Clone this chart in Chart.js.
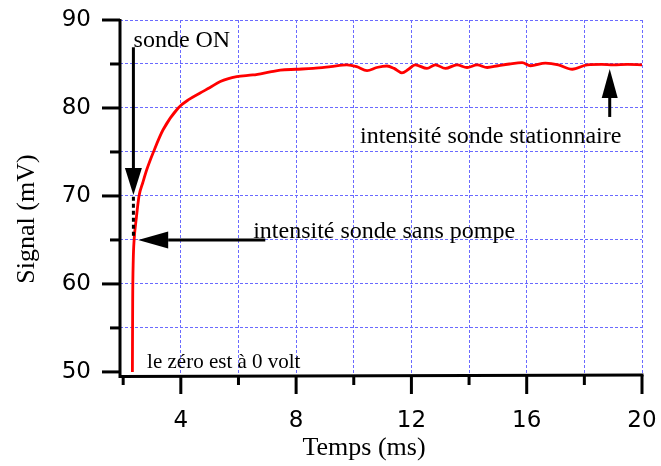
<!DOCTYPE html>
<html>
<head>
<meta charset="utf-8">
<script src="https://cdn.jsdelivr.net/npm/chart.js@4.4.1/dist/chart.umd.min.js"></script>
<style>
  html, body { margin: 0; padding: 0; background: #fff; }
  #wrap { width: 661px; height: 466px; }
</style>
</head>
<body>
<div id="wrap"><canvas id="chart" width="661" height="466"></canvas></div>
<script>
// signal
const timeMs = [2.32, 2.33, 2.35, 2.38, 2.45, 2.55, 2.68, 2.82, 3.05, 3.38, 3.91, 4.3, 4.67, 5.0, 5.37, 5.94, 6.5, 7.1, 7.45, 8.0, 8.59, 9.2, 9.76, 10.1, 10.46, 10.8, 11.15, 11.4, 11.67, 11.9, 12.13, 12.54, 12.83, 13.18, 13.58, 13.93, 14.28, 14.63, 15.0, 15.4, 15.84, 16.13, 16.65, 17.1, 17.58, 18.1, 18.6, 19.0, 19.5, 20.0];
const signalMv = [50, 58, 62.7, 65, 67.3, 70, 71.5, 73, 75, 77.5, 80, 81, 81.7, 82.3, 83, 83.55, 83.75, 84.1, 84.3, 84.4, 84.5, 84.7, 84.9, 84.7, 84.25, 84.6, 84.77, 84.5, 84.0, 84.4, 84.9, 84.5, 84.9, 84.5, 84.9, 84.6, 84.9, 84.6, 84.8, 85.0, 85.15, 84.8, 85.1, 84.9, 84.4, 84.9, 84.95, 84.9, 84.95, 84.9];

const xTickLabels = [4, 8, 12, 16, 20];
const yTickLabels = [50, 60, 70, 80, 90];

const serif = '"Liberation Serif", "Times New Roman", serif';
const sans = '"DejaVu Sans", Verdana, sans-serif';
const gridBlue = '#6a6aff';

function arrow(ctx, x1, y1, x2, y2, headLen, headW) {
    let a = Math.atan2(y2 - y1, x2 - x1);
    let bx = x2 - headLen * Math.cos(a), by = y2 - headLen * Math.sin(a);
    ctx.beginPath();
    ctx.moveTo(x1, y1);
    ctx.lineTo(bx, by);
    ctx.stroke();
    ctx.beginPath();
    ctx.moveTo(x2, y2);
    ctx.lineTo(bx + headW / 2 * Math.sin(a), by - headW / 2 * Math.cos(a));
    ctx.lineTo(bx - headW / 2 * Math.sin(a), by + headW / 2 * Math.cos(a));
    ctx.closePath();
    ctx.fill();
}

// axes, ticks, notes and arrows (Igor style)
const decorations = {
    id: 'decorations',
    afterDraw(chart) {
        let ctx = chart.ctx;
        let xs = chart.scales.x, ys = chart.scales.y;
        let area = chart.chartArea;
        let px = v => xs.getPixelForValue(v);
        let py = v => ys.getPixelForValue(v);
        ctx.save();
        ctx.strokeStyle = '#000';
        ctx.fillStyle = '#000';
        ctx.lineWidth = 3;
        ctx.lineCap = 'butt';

        // axis lines
        ctx.beginPath();
        ctx.moveTo(area.left, area.top - 1);
        ctx.lineTo(area.left, area.bottom + 1.5);
        ctx.lineTo(area.right + 1.5, area.bottom);
        ctx.stroke();

        // y ticks
        ys.ticks.forEach(t => {
            let len = yTickLabels.includes(t.value) ? 18 : 10;
            let y = py(t.value);
            ctx.beginPath();
            ctx.moveTo(area.left - len, y);
            ctx.lineTo(area.left, y);
            ctx.stroke();
        });
        // x ticks
        xs.ticks.forEach(t => {
            let len = xTickLabels.includes(t.value) ? 19 : 10;
            let x = px(t.value);
            ctx.beginPath();
            ctx.moveTo(x, area.bottom);
            ctx.lineTo(x, area.bottom + len);
            ctx.stroke();
        });

        // axis titles
        ctx.font = '26px ' + serif;
        ctx.textAlign = 'center';
        ctx.textBaseline = 'alphabetic';
        ctx.fillText('Temps (ms)', 364, 455);
        ctx.save();
        ctx.translate(34, 219);
        ctx.rotate(-Math.PI / 2);
        ctx.fillText('Signal (mV)', 0, 0);
        ctx.restore();

        // notes
        ctx.textAlign = 'left';
        ctx.font = '24px ' + serif;
        ctx.fillText('sonde ON', px(2.36), py(86.93));
        ctx.fillText('intensité sonde sans pompe', px(6.51), py(65.2));
        ctx.fillText('intensité sonde stationnaire', px(10.22), py(76.0));
        ctx.font = '21px ' + serif;
        ctx.fillText('le zéro est à 0 volt', px(2.83), py(50.45));

        // arrows
        ctx.lineWidth = 3;
        arrow(ctx, px(2.355), py(86.9), px(2.355), py(70.1), 27, 17);
        arrow(ctx, px(6.93), py(65.0), px(2.52), py(65.0), 30, 17);
        arrow(ctx, px(18.88), py(78.98), px(18.88), py(84.43), 29, 16);

        // dotted guide under "sonde ON"
        ctx.setLineDash([4, 3]);
        ctx.beginPath();
        ctx.moveTo(px(2.355), py(69.9));
        ctx.lineTo(px(2.355), py(65.3));
        ctx.stroke();
        ctx.restore();
    }
};

const ctx = document.getElementById('chart').getContext('2d');
new Chart(ctx, {
    type: 'line',
    data: {
        datasets: [{
            label: 'Signal',
            data: timeMs.map((t, i) => ({x: t, y: signalMv[i]})),
            borderColor: '#ff0000',
            borderWidth: 2.8,
            pointRadius: 0,
            fill: false,
            cubicInterpolationMode: 'monotone'
        }]
    },
    options: {
        responsive: false,
        animation: false,
        layout: {padding: {top: 20, right: 19, left: 0, bottom: 0}},
        plugins: {legend: {display: false}, tooltip: {enabled: false}},
        scales: {
            x: {
                type: 'linear',
                min: 1.89,
                max: 20,
                afterFit: s => { s.height = 91; s.paddingLeft = 0; s.paddingRight = 0; },
                border: {display: false, dash: [3, 2]},
                grid: {
                    drawTicks: false,
                    lineWidth: 1,
                    color: c => (c.tick && c.tick.value === 2) ? 'rgba(0,0,0,0)' : gridBlue
                },
                ticks: {
                    stepSize: 2,
                    includeBounds: false,
                    autoSkip: false,
                    maxRotation: 0,
                    padding: 32,
                    color: '#000',
                    font: {family: sans, size: 23},
                    callback: v => xTickLabels.includes(v) ? String(v) : ''
                }
            },
            y: {
                min: 49.65,
                max: 90,
                afterFit: s => { s.width = 120; s.paddingTop = 0; s.paddingBottom = 0; },
                border: {display: false, dash: [3, 2]},
                grid: {
                    drawTicks: false,
                    lineWidth: 1,
                    color: c => (c.tick && c.tick.value === 50) ? 'rgba(0,0,0,0)' : gridBlue
                },
                ticks: {
                    stepSize: 5,
                    includeBounds: false,
                    autoSkip: false,
                    padding: 29,
                    color: '#000',
                    font: {family: sans, size: 23},
                    callback: v => yTickLabels.includes(v) ? String(v) : ''
                }
            }
        }
    },
    plugins: [decorations]
});
</script>
</body>
</html>
